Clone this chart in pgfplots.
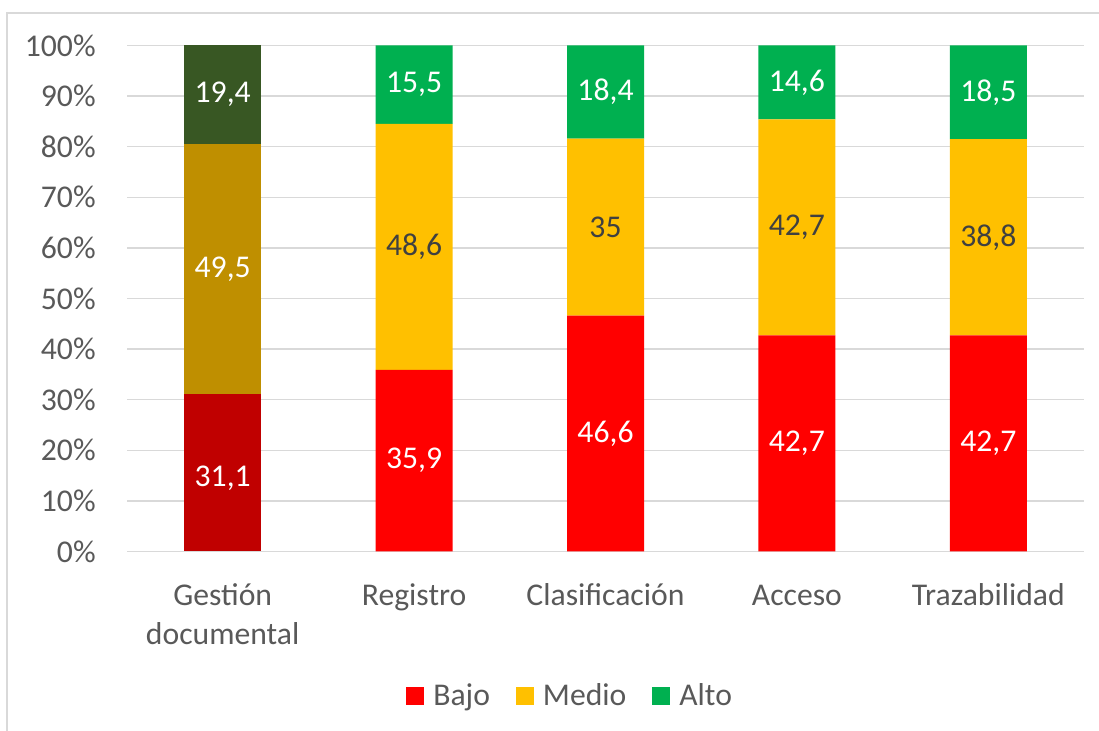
\documentclass[border=0pt]{standalone}
\usepackage{pgfplots}
\pgfplotsset{compat=1.18}
\usepackage{fontspec}
\setmainfont{Carlito}
\definecolor{gridc}{HTML}{D9D9D9}
\definecolor{txt}{HTML}{595959}
\definecolor{dred}{HTML}{C00000}
\definecolor{dgold}{HTML}{BF8F00}
\definecolor{dgreen}{HTML}{385723}
\definecolor{redA}{HTML}{FF0000}
\definecolor{yelA}{HTML}{FFC000}
\definecolor{grnA}{HTML}{00B050}
\definecolor{lbl}{HTML}{404040}
\newcommand{\bigf}{\fontsize{19}{23.4}\selectfont}
\pgfplotsset{
  base/.style={
    x=114.84pt, y=3.036pt,
    xmin=-0.5, xmax=4.5, ymin=0, ymax=100,
    ybar stacked, bar width=46.2pt,
    at={(76.2pt,107.7pt)}, anchor=south west,
    axis line style={draw=none},
    tick style={draw=none},
    major tick length=0pt,
    nodes near coords={\pgfmathprintnumber[use comma, assume math mode=true]{\pgfplotspointmeta}},
    every node near coord/.append style={anchor=center, font=\bigf, inner sep=0pt},
  },
}
\begin{document}
\begin{tikzpicture}
\path[use as bounding box] (0pt,0pt) rectangle (659.4pt,438.6pt);
\draw[gridc, line width=1pt] (4.2pt,-5pt) -- (4.2pt,430.8pt) -- (665pt,430.8pt);
\begin{axis}[base,
  ymajorgrids, grid style={gridc, line width=0.9pt},
  ytick={0,10,...,100},
  yticklabels={0\%,10\%,20\%,30\%,40\%,50\%,60\%,70\%,80\%,90\%,100\%},
  xtick={0,1,2,3,4},
  xticklabels={{\begin{tabular}[t]{@{}c@{}}Gestión\\documental\end{tabular}},Registro,Clasificación,Acceso,Trazabilidad},
  ticklabel style={font=\bigf, text=txt},
  yticklabel style={anchor=east, inner sep=0pt, xshift=-18.6pt},
  xticklabel style={anchor=base, inner sep=0pt, yshift=-32.5pt},
]
\addplot[fill=dred, draw=none, every node near coord/.append style={text=white, yshift=-3pt}] coordinates {(0,31.1)};
\addplot[fill=dgold, draw=none, every node near coord/.append style={text=white}] coordinates {(0,49.5)};
\addplot[fill=dgreen, draw=none, every node near coord/.append style={text=white}] coordinates {(0,19.4)};
\end{axis}
\begin{axis}[base,
  xtick=\empty, ytick=\empty,
  legend columns=-1,
  legend style={at={(axis description cs:0.2915,-0.2846)}, anchor=west, draw=none, fill=none,
    inner sep=0pt, font=\bigf, text=txt, nodes={inner sep=0pt},
    /tikz/every even column/.append style={column sep=15.6pt},
    /tikz/every odd column/.append style={column sep=5.4pt}},
  legend image code/.code={\fill[#1] (0pt,-5.4pt) rectangle (10.8pt,5.4pt);},
]
\addplot[fill=redA, draw=none, every node near coord/.append style={text=white}] coordinates {(1,35.9) (2,46.6) (3,42.7) (4,42.7)};
\addlegendentry{Bajo}
\addplot[fill=yelA, draw=none, every node near coord/.append style={text=lbl}] coordinates {(1,48.6) (2,35) (3,42.7) (4,38.8)};
\addlegendentry{Medio}
\addplot[fill=grnA, draw=none, every node near coord/.append style={text=white}] coordinates {(1,15.5) (2,18.4) (3,14.6) (4,18.5)};
\addlegendentry{Alto}
\end{axis}
\end{tikzpicture}
\end{document}
